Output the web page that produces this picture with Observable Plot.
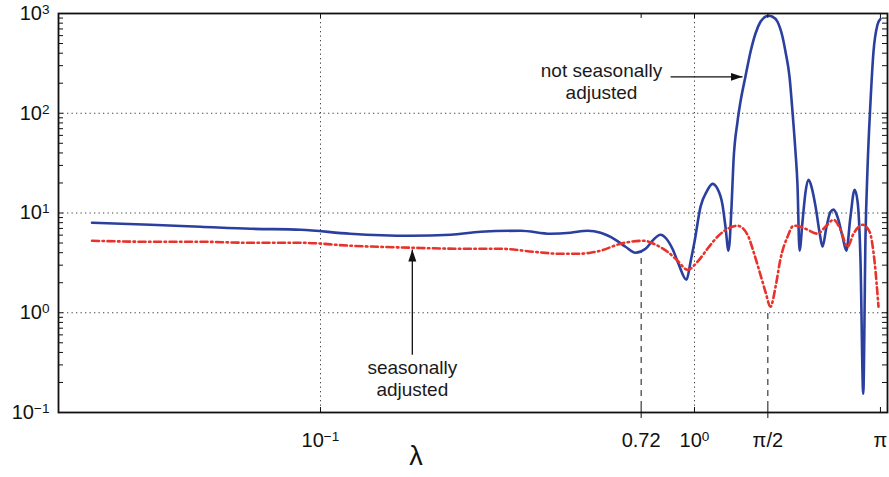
<!DOCTYPE html>
<html><head><meta charset="utf-8">
<script src="https://cdn.jsdelivr.net/npm/d3@7"></script>
<script src="https://cdn.jsdelivr.net/npm/@observablehq/plot@0.6"></script>
<style>
html,body{margin:0;padding:0;background:#fff;}
</style></head><body><div id="chart"></div>
<script>
// ---- data ----
const freqNSA = [0.0245,0.0351,0.0478,0.0650,0.0885,0.120,0.174,0.223,0.268,0.343,0.412,0.466,0.518,0.561,0.615,0.654,0.695,0.740,0.772,0.811,0.841,0.873,0.906,0.952,0.976,1.0,1.038,1.077,1.117,1.152,1.188,1.210,1.233,1.256,1.271,1.303,1.327,1.368,1.412,1.455,1.501,1.548,1.577,1.617,1.667,1.719,1.751,1.795,1.828,1.862,1.885,1.909,1.944,1.981,2.018,2.055,2.107,2.158,2.199,2.254,2.311,2.354,2.411,2.488,2.547,2.612,2.679,2.729,2.779,2.826,2.866,2.901,2.955,3.010,3.085,3.1416];
const notSeasonallyAdjusted = [7.98,7.62,7.28,6.95,6.80,6.20,5.92,6.05,6.49,6.64,6.20,6.34,6.64,6.34,5.39,4.59,4.00,4.38,5.27,6.05,5.52,4.38,3.10,2.14,3.25,5.15,11.6,16.3,19.6,17.5,12.1,7.28,4.19,11.6,32.6,82.2,130,232,414,627,827,928,949,928,827,585,414,232,104,41.1,19.2,4.19,8.17,16.3,21.5,18.3,11.6,6.49,4.59,7.28,10.3,10.8,9.17,5.78,4.19,9.17,17.1,13.0,3.25,0.154,6.05,27.8,130,414,771,885];

const freqSA = [0.0245,0.0351,0.0478,0.0650,0.0885,0.120,0.174,0.237,0.303,0.371,0.438,0.487,0.527,0.561,0.634,0.731,0.787,0.847,0.901,0.958,1.019,1.083,1.152,1.225,1.303,1.386,1.438,1.501,1.548,1.596,1.647,1.698,1.773,1.840,1.920,2.005,2.132,2.239,2.354,2.457,2.565,2.662,2.812,2.938,3.030,3.104];
const seasonallyAdjusted = [5.27,5.15,5.15,5.03,5.03,4.70,4.49,4.38,4.38,4.09,3.90,3.90,4.00,4.19,4.92,5.27,4.81,4.09,3.32,2.70,3.25,4.38,5.78,6.95,7.45,6.05,4.09,2.40,1.62,1.15,1.82,3.48,5.78,7.45,7.28,6.80,6.20,7.28,8.55,6.80,4.59,6.20,7.62,6.49,3.25,1.15];

const xTicks = [0.1, 0.72, 1, Math.PI / 2, Math.PI];
const xTickLabels = ["10^\u22121", "0.72", "10^0", "\u03c0/2", "\u03c0"];
const xGrid = [0.1, 1];
const yTicks = [0.1, 1, 10, 100, 1000];
const yTickLabels = ["10^\u22121", "10^0", "10^1", "10^2", "10^3"];
const yGrid = [1, 10, 100];
const yMinor = [0.2,0.3,0.4,0.5,0.6,0.7,0.8,0.9,2,3,4,5,6,7,8,9,20,30,40,50,60,70,80,90,200,300,400,500,600,700,800,900];

// dashed reference lines: frequency, from / to
const refFreq = [0.72, Math.PI / 2];
const refLow = [0.087, 0.087];
const refHigh = [4.1, 1.0];

// annotations
const noteText = ["not seasonally\nadjusted", "seasonally\nadjusted"];
const noteX = [0.564, 0.176];
const noteY = [212, 0.222];
const arrowX1 = [0.863, 0.176];
const arrowY1 = [232, 0.38];
const arrowX2 = [1.344, 0.176];
const arrowY2 = [232, 4.3];

// ---- build ----
const blue = "#2b3f9e", red = "#e8322a";
const nsa = freqNSA.map((f, i) => ({f, v: notSeasonallyAdjusted[i]}));
const sa = freqSA.map((f, i) => ({f, v: seasonallyAdjusted[i]}));
const refs = refFreq.map((f, i) => ({f, lo: refLow[i], hi: refHigh[i]}));
const notes = noteText.map((t, i) => ({t, x: noteX[i], y: noteY[i]}));
const arrows = arrowX1.map((x1, i) => ({x1, y1: arrowY1[i], x2: arrowX2[i], y2: arrowY2[i]}));
const xLabs = xTicks.map((v, i) => ({v, t: xTickLabels[i]}));
const yLabs = yTicks.map((v, i) => ({v, t: yTickLabels[i]}));
const yAll = yMinor.concat(yTicks);

function filledArrow(color) {
  const m = document.createElementNS("http://www.w3.org/2000/svg", "marker");
  m.setAttribute("viewBox", "-12 -5 12 10");
  m.setAttribute("refX", "0");
  m.setAttribute("refY", "0");
  m.setAttribute("markerWidth", "12");
  m.setAttribute("markerHeight", "10");
  m.setAttribute("markerUnits", "userSpaceOnUse");
  m.setAttribute("orient", "auto");
  const p = document.createElementNS("http://www.w3.org/2000/svg", "path");
  p.setAttribute("d", "M-12,-4L0,0L-12,4Z");
  p.setAttribute("fill", "#111");
  p.setAttribute("stroke", "none");
  m.appendChild(p);
  return m;
}

const font = "'Liberation Sans', Arial, Helvetica, sans-serif";
const W = 889, H = 477, ML = 58, MR = 2, MT = 13, MB = 65;
const fw = W - ML - MR, fh = H - MT - MB, tick = 5;

const chart = Plot.plot({
  width: W, height: H,
  marginLeft: ML, marginRight: MR, marginTop: MT, marginBottom: MB,
  x: {type: "log", domain: [0.01993, 3.281], axis: null},
  y: {type: "log", domain: [0.1, 1000], axis: null},
  style: {fontFamily: font, background: "#fff", color: "#111"},
  marks: [
    Plot.ruleY(yGrid, {stroke: "#444", strokeWidth: 1, strokeDasharray: "1.3,3.2"}),
    Plot.ruleX(xGrid, {stroke: "#444", strokeWidth: 1, strokeDasharray: "1.3,3.2"}),
    Plot.ruleX(refs, {x: "f", y1: "lo", y2: "hi", stroke: "#111", strokeWidth: 1, strokeDasharray: "6,5"}),
    Plot.line(nsa, {x: "f", y: "v", stroke: blue, strokeWidth: 2.6, curve: "monotone-x"}),
    Plot.line(sa, {x: "f", y: "v", stroke: red, strokeWidth: 2.6, strokeDasharray: "7,3.5,1.5,3.5", curve: "monotone-x"}),
    Plot.link(arrows, {x1: "x1", y1: "y1", x2: "x2", y2: "y2", stroke: "#111", strokeWidth: 1.3, markerEnd: filledArrow}),
    Plot.text(notes, {x: "x", y: "y", text: "t", fontSize: 19, lineHeight: 1.15, fill: "#1a1a1a", textAnchor: "middle"}),
    // inside ticks
    Plot.tickY(yAll, {y: d => d, stroke: "#111", strokeWidth: 1, insetRight: fw - tick}),
    Plot.tickY(yAll, {y: d => d, stroke: "#111", strokeWidth: 1, insetLeft: fw - tick}),
    Plot.tickX(xTicks, {x: d => d, stroke: "#111", strokeWidth: 1, insetTop: fh - tick}),
    Plot.tickX(xTicks, {x: d => d, stroke: "#111", strokeWidth: 1, insetBottom: fh - tick}),
    Plot.frame({stroke: "#111", strokeWidth: 1.8}),
    // tick labels
    Plot.text(yLabs, {y: "v", text: "t", frameAnchor: "left", dx: -9, textAnchor: "end", fontSize: 20, fill: "#111"}),
    Plot.text(xLabs, {x: "v", text: "t", frameAnchor: "bottom", dy: 20, lineAnchor: "top", fontSize: 20, fill: "#111"}),
    Plot.text(["\u03bb"], {x: () => 0.18, frameAnchor: "bottom", dy: 52, fontSize: 27, fill: "#111", text: d => d})
  ]
});

// superscripts as real tspans
chart.querySelectorAll("text").forEach(t => {
  const s = t.textContent;
  const m = /^10\^(.+)$/.exec(s);
  if (m && t.children.length === 0) {
    t.textContent = "10";
    const sp = document.createElementNS("http://www.w3.org/2000/svg", "tspan");
    sp.setAttribute("dy", "-0.45em");
    sp.setAttribute("font-size", "0.68em");
    sp.textContent = m[1];
    t.appendChild(sp);
  }
});
document.getElementById("chart").appendChild(chart);
</script>
</body></html>
